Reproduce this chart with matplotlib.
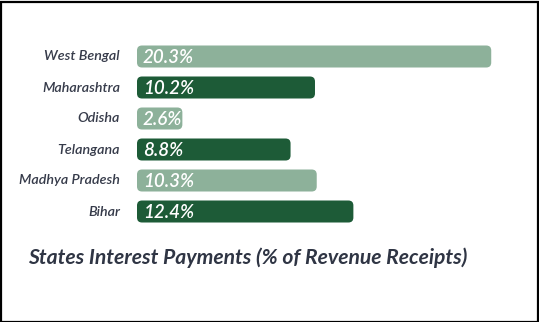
import matplotlib
matplotlib.use("Agg")
import matplotlib.pyplot as plt
from matplotlib.patches import FancyBboxPatch, Rectangle

states = ["West Bengal", "Maharashtra", "Odisha", "Telangana", "Madhya Pradesh", "Bihar"]
interest_pct = [20.3, 10.2, 2.6, 8.8, 10.3, 12.4]
title = "States Interest Payments (% of Revenue Receipts)"

LIGHT = "#8db19a"
DARK = "#1d5b37"
LABEL_COLOR = "#363b4a"
FONT = ["Lato", "DejaVu Sans"]

W, H = 539, 322
fig = plt.figure(figsize=(W / 100, H / 100), dpi=100)
fig.patch.set_facecolor("white")

# axes placed in pixel terms: bars begin at x=137, rows 31 px apart
ax_left, ax_right = 137, 505
ax_top, ax_bot = 41, 227
ax = fig.add_axes([ax_left / W, 1 - ax_bot / H, (ax_right - ax_left) / W, (ax_bot - ax_top) / H])
xmax = (ax_right - ax_left) / 17.45
ax.set_xlim(0, xmax)
ax.set_ylim(len(states) - 0.5, -0.5)
ax.axis("off")

px_x = (ax_right - ax_left) / xmax
px_y = (ax_bot - ax_top) / len(states)
bar_h = 0.71
radius = 5 / px_x

for i, (name, val) in enumerate(zip(states, interest_pct)):
    color = LIGHT if i % 2 == 0 else DARK
    bar = FancyBboxPatch(
        (0, i - bar_h / 2), val, bar_h,
        boxstyle=f"round,pad=0,rounding_size={radius}",
        mutation_aspect=px_x / px_y,
        facecolor=color, edgecolor="none",
    )
    ax.add_patch(bar)
    ax.text(6 / px_x, i + 0.04, f"{val}%", color="white", fontsize=13.5,
            style="italic", weight="semibold", family=FONT, ha="left", va="center")
    ax.text(-17 / px_x, i, name, color=LABEL_COLOR, fontsize=10.3,
            style="italic", weight="semibold", family=FONT, ha="right", va="center",
            clip_on=False)

fig.text(28 / W, 1 - 258 / H, title, color="#2f3544", fontsize=15.2,
         style="italic", weight="bold", family=FONT, ha="left", va="center")

fig.patches.append(Rectangle((0.5 / W, 0.5 / H), 1 - 2 / W, 1 - 2 / H,
                             transform=fig.transFigure, fill=False,
                             edgecolor="black", linewidth=1.6))

fig.savefig("out.png", dpi=100)
